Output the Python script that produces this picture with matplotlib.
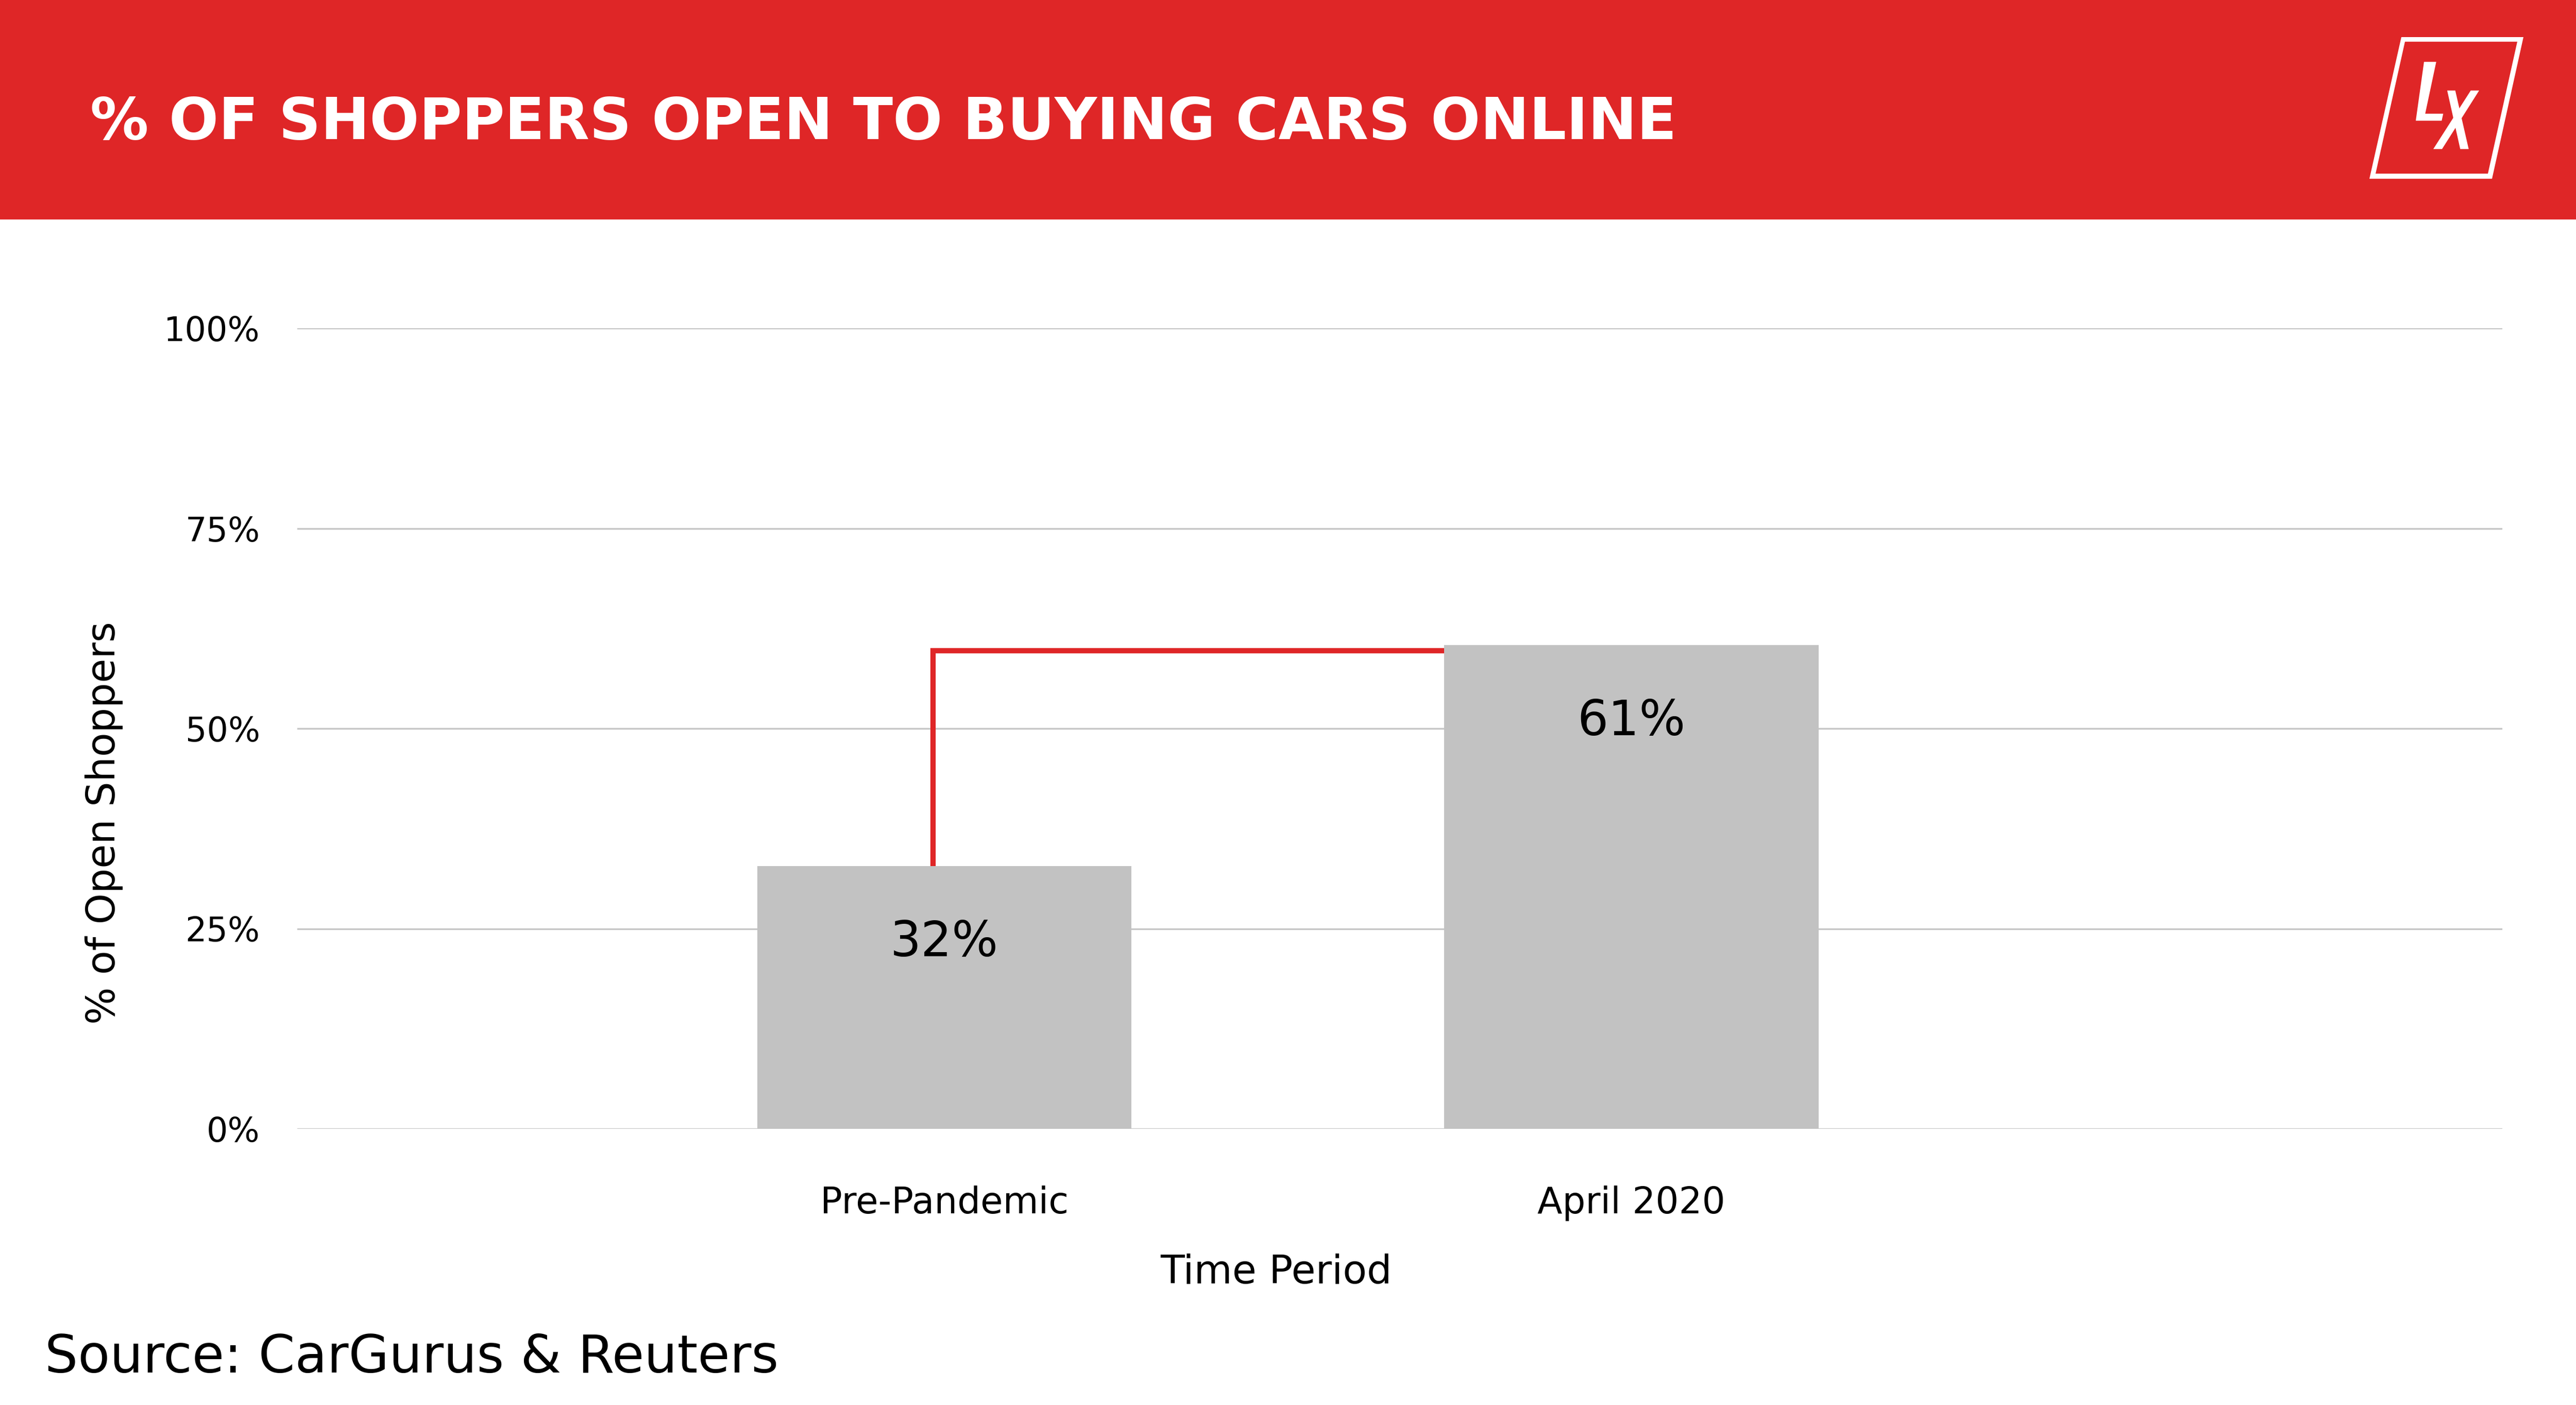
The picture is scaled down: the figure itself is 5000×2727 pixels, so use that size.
import matplotlib
matplotlib.use("Agg")
import matplotlib.pyplot as plt
from matplotlib.patches import Rectangle, Polygon

# data
periods = ["Pre-Pandemic", "April 2020"]
share_open = [32.8, 60.4]          # bar heights [% of shoppers]
bar_labels = ["32%", "61%"]
y_ticks = [0, 25, 50, 75, 100]
y_tick_labels = ["0%", "25%", "50%", "75%", "100%"]

RED = "#DF2627"
BAR_GREY = "#C2C2C2"
GRID_GREY = "#C6C6C6"

W, H = 5000, 2727
DPI = 100

plt.rcParams['font.family'] = ['DejaVu Sans']

fig = plt.figure(figsize=(W / DPI, H / DPI), dpi=DPI)
fig.patch.set_facecolor("white")


def px(x, y):
    # figure pixel (from top-left) -> figure fraction
    return (x / W, 1 - y / H)


# red banner with title
fig.add_artist(Rectangle((0, 1 - 426 / H), 1, 426 / H, transform=fig.transFigure,
                         facecolor=RED, edgecolor="none", zorder=0))
fig.text(*px(175, 270), "% OF SHOPPERS OPEN TO BUYING CARS ONLINE", color="white",
         fontsize=81.5, fontweight="bold", ha="left", va="baseline")

# LX logo (outline parallelogram + letters)
logo_outer = [(4661, 72), (4898, 72), (4837, 347), (4599, 347)]
logo_inner = [(4668, 81), (4886, 81), (4829, 337), (4611, 337)]
logo_L = [(4705, 120), (4728.7, 120), (4707.3, 220.7), (4742.3, 220.7), (4739.3, 234.3), (4689, 234.3)]
logo_X1 = [(4750, 175.7), (4765.7, 175.7), (4791.7, 289.3), (4775.3, 289.3)]
logo_X2 = [(4795.7, 175.7), (4812, 175.7), (4740, 289.3), (4723, 289.3)]
for pts, col in [(logo_outer, "white"), (logo_inner, RED), (logo_L, "white"),
                 (logo_X1, "white"), (logo_X2, "white")]:
    fig.add_artist(Polygon([px(x, y) for x, y in pts], closed=True, transform=fig.transFigure,
                           facecolor=col, edgecolor="none", zorder=1))

# plot area
ax = fig.add_axes([577 / W, 1 - 2191 / H, (4857 - 577) / W, (2191 - 637) / H])
x = list(range(len(periods)))
bar_w = 0.545
ax.bar(x, share_open, width=bar_w, color=BAR_GREY, zorder=2)

ax.set_xlim(-0.942, 2.268)
ax.set_ylim(0, 100)
ax.set_yticks(y_ticks)
ax.set_yticklabels(y_tick_labels)
ax.set_xticks(x)
ax.set_xticklabels(periods)
ax.yaxis.grid(True, color=GRID_GREY, linewidth=2.4)
ax.set_axisbelow(True)
for s in ax.spines.values():
    s.set_visible(False)
ax.tick_params(axis="y", length=0, pad=52, labelsize=47)
ax.tick_params(axis="x", length=0, pad=79, labelsize=51)

# value labels inside the bars
for xi, v, lab in zip(x, share_open, bar_labels):
    ax.annotate(lab, (xi, v), xytext=(0, -126), textcoords="offset points",
                ha="center", va="baseline", fontsize=68, color="black", zorder=4)

# red connector from first bar up and across to the second bar
x_conn = x[0] - 0.0165
y_conn = share_open[1] - 0.7
ax.plot([x_conn, x_conn, x[1] - bar_w / 2], [share_open[0], y_conn, y_conn],
        color=RED, linewidth=7.4, solid_joinstyle="miter", solid_capstyle="butt", zorder=3)

ax.set_xlabel("Time Period", fontsize=55)
ax.xaxis.set_label_coords(0.444, -0.156)
ax.set_ylabel("% of Open Shoppers", fontsize=55)
ax.yaxis.set_label_coords(-0.079, 0.382)

fig.text(*px(87, 2664), "Source: CarGurus & Reuters", fontsize=73,
         ha="left", va="baseline", color="black")

fig.savefig("out.png", dpi=DPI)
